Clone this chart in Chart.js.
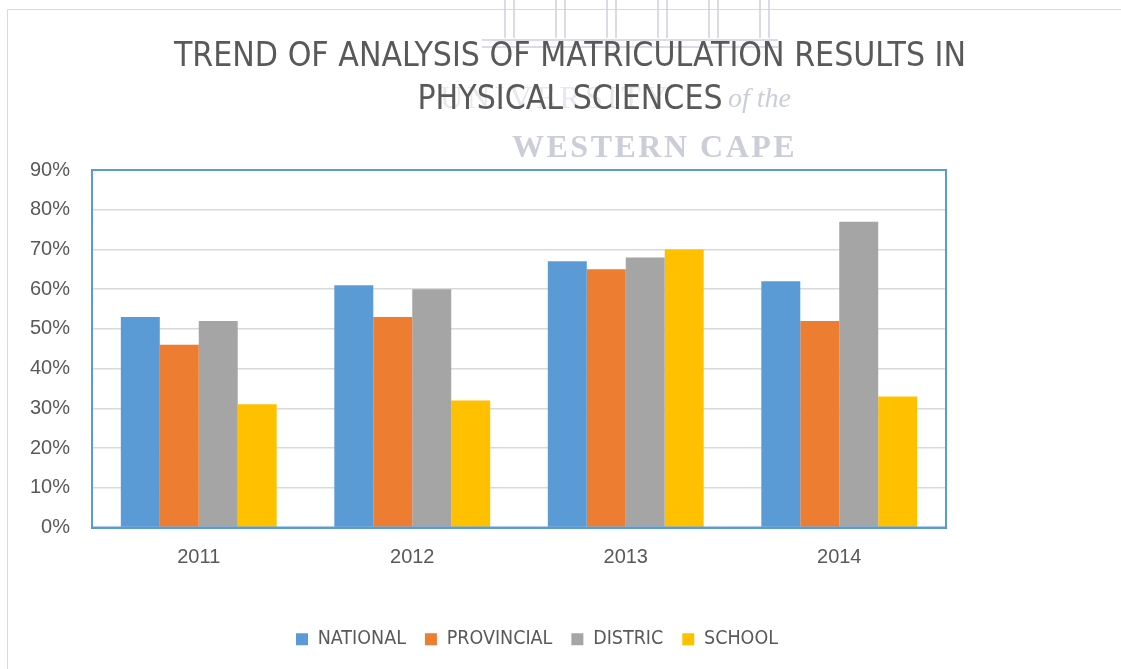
<!DOCTYPE html>
<html>
<head>
<meta charset="utf-8">
<script src="https://cdn.jsdelivr.net/npm/chart.js@4.4.0/dist/chart.umd.min.js"></script>
<style>
  html, body { margin: 0; padding: 0; background: #fff; overflow: hidden; }
  #wrap { position: absolute; left: 0; top: 0; width: 1140px; height: 669px; }
</style>
</head>
<body>
<div id="wrap"><canvas id="chart"></canvas></div>
<script>
const years = ['2011', '2012', '2013', '2014'];
const national = [53, 61, 67, 62];
const provincial = [46, 53, 65, 52];
const distric = [52, 60, 68, 77];
const school = [31, 32, 70, 33];
const titleLines = ['TREND OF ANALYSIS OF MATRICULATION RESULTS IN', 'PHYSICAL SCIENCES'];

const textGrey = '#595959';
const plotBlue = '#5b9bd5';
const narrow = '"DejaVu Sans Condensed", "Liberation Sans", sans-serif';

// faint watermark + outer frame lines, drawn behind the chart
const backdrop = {
    id: 'backdrop',
    beforeDraw(chart) {
        const c = chart.ctx;
        c.save();
        c.strokeStyle = '#d9d9d9';
        c.lineWidth = 1;
        c.beginPath();
        c.moveTo(7.5, 669); c.lineTo(7.5, 9.5); c.lineTo(1140, 9.5);
        c.stroke();

        c.strokeStyle = '#cdd1dc';
        c.lineWidth = 1.5;
        for (let i = 0; i < 6; i++) {
            const x = 505 + i * 51;
            c.beginPath();
            c.moveTo(x, 0); c.lineTo(x, 38);
            c.moveTo(x + 9, 0); c.lineTo(x + 9, 38);
            c.stroke();
        }
        c.beginPath();
        c.moveTo(482, 40); c.lineTo(778, 40);
        c.moveTo(482, 47); c.lineTo(778, 47);
        c.stroke();

        c.textBaseline = 'alphabetic';
        c.fillStyle = '#e6e8ee';
        c.font = '32px "Liberation Serif"';
        c.letterSpacing = '4px';
        c.fillText('UNIVERSITY', 440, 108);
        c.fillStyle = '#cbced8';
        c.font = 'bold 32px "Liberation Serif"';
        c.letterSpacing = '2.5px';
        c.fillText('WESTERN CAPE', 512, 157);
        c.letterSpacing = '0px';
        c.font = 'italic 28px "Liberation Serif"';
        c.fillText('of the', 728, 107);
        c.restore();
    }
};

// blue box round the plot area
const plotBox = {
    id: 'plotBox',
    afterDatasetsDraw(chart) {
        const a = chart.chartArea;
        const c = chart.ctx;
        c.save();
        c.strokeStyle = plotBlue;
        c.lineWidth = 2;
        c.strokeRect(a.left, a.top, a.right - a.left, a.bottom - a.top);
        c.restore();
    }
};

// legend sits a bit left of the title centre in the original
const legendShift = {
    id: 'legendShift',
    afterLayout(chart) {
        const lg = chart.legend;
        if (lg) { lg.left -= 33; lg.right -= 33; }
    }
};

const ctx = document.getElementById('chart').getContext('2d');
const myChart = new Chart(ctx, {
    type: 'bar',
    data: {
        labels: years,
        datasets: [
            { label: 'NATIONAL', data: national, backgroundColor: '#5b9bd5' },
            { label: 'PROVINCIAL', data: provincial, backgroundColor: '#ed7d31' },
            { label: 'DISTRIC', data: distric, backgroundColor: '#a5a5a5' },
            { label: 'SCHOOL', data: school, backgroundColor: '#ffc000' }
        ]
    },
    options: {
        responsive: true,
        maintainAspectRatio: false,
        animation: false,
        categoryPercentage: 0.73,
        barPercentage: 1.0,
        layout: { padding: { left: 0, right: 0, top: 0, bottom: 10 } },
        plugins: {
            title: {
                display: true,
                text: titleLines,
                color: textGrey,
                font: { family: narrow, size: 33.5, weight: 'normal', lineHeight: 43 / 33.5 },
                padding: { top: 35.5, bottom: 48.5 }
            },
            legend: {
                position: 'bottom',
                labels: {
                    color: textGrey,
                    font: { family: narrow, size: 19.5 },
                    boxWidth: 12,
                    boxHeight: 12,
                    padding: 19
                }
            },
            tooltip: { enabled: false }
        },
        scales: {
            x: {
                grid: { display: false, drawTicks: false },
                border: { color: plotBlue, width: 2 },
                ticks: { color: textGrey, font: { family: '"Liberation Sans"', size: 20 }, padding: 18 },
                afterFit(s) { s.height = 83; }
            },
            y: {
                min: 0,
                max: 90,
                grid: { color: '#d9d9d9', lineWidth: 1.5, drawTicks: false },
                border: { color: plotBlue, width: 2 },
                ticks: {
                    stepSize: 10,
                    color: textGrey,
                    font: { family: '"Liberation Sans"', size: 20 },
                    padding: 22,
                    callback: v => v + '%'
                },
                afterFit(s) { s.width = 92; }
            },
            yRight: {
                position: 'right',
                grid: { display: false, drawTicks: false },
                border: { display: false },
                ticks: { display: false },
                afterFit(s) { s.width = 194; }
            }
        }
    },
    plugins: [backdrop, plotBox, legendShift]
});

myChart.update();
</script>
</body>
</html>
